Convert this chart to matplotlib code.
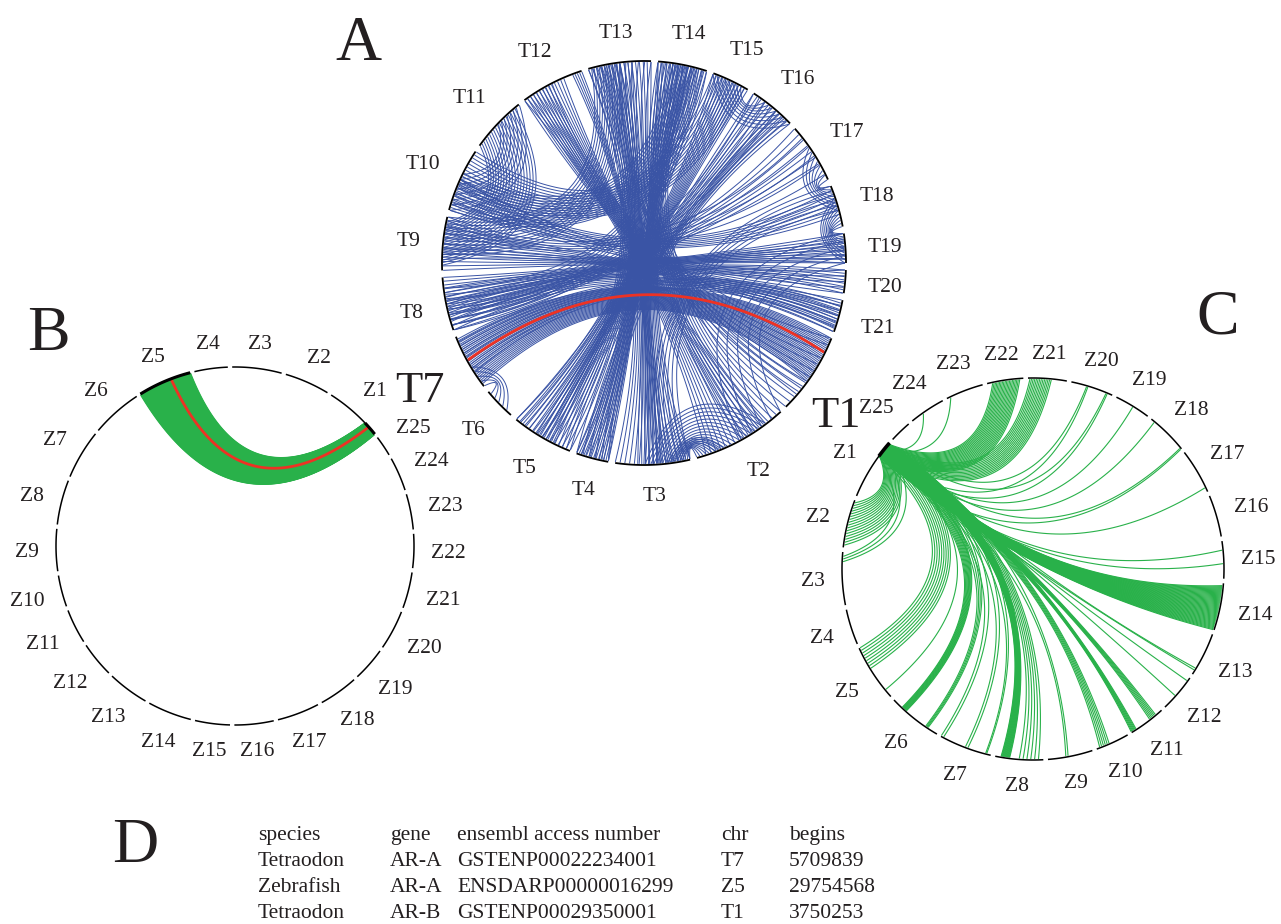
import numpy as np
import matplotlib
matplotlib.use("Agg")
import matplotlib.pyplot as plt
from matplotlib.collections import LineCollection

plt.rcParams["font.family"] = ["Liberation Serif", "DejaVu Serif"]

# %% data
tetra_names = [f"T{i}" for i in range(1, 22)]
tetra_len = [23.5, 27.4, 21.4, 9.3, 17.7, 9.2, 16.2, 15.3, 15.3, 18.3, 16.2,
             18.3, 18.0, 14.1, 10.8, 13.4, 17.3, 12.0, 8.4, 6.6, 9.3]
zebra_names = [f"Z{i}" for i in range(1, 26)]
zebra_len = [18.8, 14.6, 16.0, 10.8, 17.4, 16.5, 16.0, 14.5, 13.6, 10.2, 11.2,
             11.5, 13.4, 14.3, 11.3, 12.7, 13.7, 12.7, 11.0, 12.9, 11.7, 11.0,
             11.5, 11.0, 6.7]

# tetraodon self links: (chrA, fracA0, fracA1, chrB, fracB0, fracB1, count)
links_a = [
    ("T7", 0.05, 0.95, "T1", 0.0, 0.6, 28),
    ("T7", 0.3, 0.9, "T21", 0.1, 0.9, 9),
    ("T8", 0.0, 0.5, "T21", 0.2, 1.0, 7),
    ("T8", 0.2, 0.8, "T20", 0.0, 1.0, 8),
    ("T8", 0.5, 1.0, "T19", 0.0, 1.0, 8),
    ("T9", 0.0, 0.5, "T19", 0.2, 1.0, 7),
    ("T9", 0.3, 1.0, "T13", 0.05, 0.5, 12),
    ("T10", 0.0, 0.6, "T14", 0.3, 1.0, 14),
    ("T10", 0.4, 1.0, "T15", 0.0, 0.9, 12),
    ("T10", 0.1, 0.5, "T18", 0.1, 0.7, 7),
    ("T11", 0.0, 0.9, "T9", 0.1, 0.9, 18),
    ("T11", 0.5, 1.0, "T10", 0.0, 0.6, 8),
    ("T12", 0.0, 0.7, "T2", 0.2, 0.9, 14),
    ("T12", 0.85, 1.0, "T3", 0.4, 0.6, 5),
    ("T13", 0.2, 1.0, "T4", 0.0, 1.0, 14),
    ("T13", 0.0, 0.7, "T3", 0.3, 1.0, 12),
    ("T14", 0.0, 0.8, "T3", 0.0, 0.7, 14),
    ("T14", 0.5, 1.0, "T8", 0.1, 0.8, 7),
    ("T15", 0.0, 1.0, "T5", 0.3, 1.0, 12),
    ("T16", 0.0, 0.9, "T5", 0.0, 0.6, 10),
    ("T16", 0.3, 1.0, "T15", 0.0, 0.8, 8),
    ("T16", 0.6, 1.0, "T4", 0.0, 1.0, 6),
    ("T17", 0.0, 0.7, "T8", 0.0, 0.6, 7),
    ("T17", 0.4, 1.0, "T18", 0.0, 0.6, 8),
    ("T18", 0.3, 1.0, "T19", 0.0, 1.0, 10),
    ("T18", 0.0, 0.6, "T3", 0.0, 0.4, 6),
    ("T19", 0.0, 1.0, "T2", 0.0, 0.5, 5),
    ("T1", 0.0, 0.8, "T12", 0.0, 0.5, 10),
    ("T1", 0.6, 1.0, "T13", 0.5, 1.0, 6),
    ("T2", 0.0, 0.5, "T14", 0.0, 0.7, 10),
    ("T3", 0.1, 0.6, "T2", 0.2, 0.8, 14),
    ("T3", 0.0, 0.3, "T2", 0.7, 1.0, 10),
    ("T4", 0.0, 1.0, "T14", 0.0, 0.6, 8),
    ("T5", 0.0, 0.5, "T13", 0.0, 0.5, 8),
    ("T5", 0.5, 1.0, "T14", 0.3, 0.9, 7),
    ("T6", 0.2, 0.9, "T7", 0.0, 0.4, 5),
    ("T21", 0.0, 1.0, "T9", 0.2, 0.8, 7),
    ("T20", 0.0, 1.0, "T10", 0.0, 0.5, 5),
    ("T8", 0.0, 0.4, "T16", 0.0, 0.6, 5),
    ("T9", 0.7, 1.0, "T17", 0.2, 0.9, 5),
]
red_a = ("T7", 0.54, "T1", 0.19)

# panel B: T7 block (placed at start of Z1) -> Z5
src_b = ("Z1", 0.0, 0.25)
ribbon_b = ("Z5", 0.0, 1.0, 120)
red_b = ("Z5", 0.37, "Z1", 0.16)

# panel C: T1 block (placed at start of Z1) -> zebrafish chromosomes
src_c = ("Z1", 0.02, 0.27)
links_c = [
    ("Z2", 0.05, 0.95, 16), ("Z3", 0.08, 0.18, 3), ("Z5", 0.0, 0.4, 9),
    ("Z5", 0.85, 0.85, 1), ("Z6", 0.2, 0.3, 10), ("Z6", 0.75, 0.8, 4),
    ("Z7", 0.0, 0.05, 2), ("Z7", 0.5, 0.55, 2), ("Z7", 0.9, 0.92, 2),
    ("Z8", 0.12, 0.3, 16), ("Z8", 0.5, 0.9, 6), ("Z9", 0.4, 0.45, 2),
    ("Z10", 0.1, 0.4, 6), ("Z11", 0.0, 0.15, 7), ("Z11", 0.6, 0.8, 6),
    ("Z12", 0.4, 0.4, 1), ("Z12", 0.9, 0.9, 1), ("Z13", 0.1, 0.15, 2),
    ("Z14", 0.0, 0.95, 45), ("Z15", 0.4, 0.4, 1), ("Z15", 0.76, 0.76, 1),
    ("Z17", 0.1, 0.1, 1), ("Z18", 0.0, 0.03, 2), ("Z18", 0.9, 0.9, 1),
    ("Z19", 0.48, 0.48, 1), ("Z20", 0.12, 0.15, 2), ("Z20", 0.6, 0.63, 2),
    ("Z21", 0.4, 0.95, 14), ("Z22", 0.1, 0.85, 20), ("Z23", 0.9, 0.9, 1),
    ("Z24", 0.64, 0.64, 1),
]

table_header = ["species", "gene", "ensembl access number", "chr", "begins"]
table_rows = [
    ["Tetraodon", "AR-A", "GSTENP00022234001", "T7", "5709839"],
    ["Zebrafish", "AR-A", "ENSDARP00000016299", "Z5", "29754568"],
    ["Tetraodon", "AR-B", "GSTENP00029350001", "T1", "3750253"],
]

BLUE = "#3a54a5"
GREEN = "#29b14a"
RED = "#ed3224"
INK = "#231f20"


# %% helpers
def make_layout(names, lens, start, direction, gap):
    lens = np.asarray(lens, float)
    scale = (360 - gap * len(lens)) / lens.sum()
    lay, pos = {}, 0.0
    for n, l in zip(names, lens):
        lay[n] = (start + direction * pos, direction * l * scale)
        pos += l * scale + gap
    return lay


def ang(lay, chrom, frac):
    a0, span = lay[chrom]
    return np.deg2rad(a0 + span * frac)


def spread(f0, f1, n):
    return np.array([(f0 + f1) / 2]) if n == 1 else np.linspace(f0, f1, n)


def bezier(t1, t2, npts=80):
    p0 = np.array([np.cos(t1), np.sin(t1)])
    p2 = np.array([np.cos(t2), np.sin(t2)])
    s = p0 + p2
    ns = np.linalg.norm(s)
    u = s / ns if ns > 1e-6 else np.array([-p0[1], p0[0]])
    m = ns / 2
    c = 0.9 * m ** 8 - 0.6 * m * (1 - m)
    t = np.linspace(0, 1, npts)[:, None]
    return (1 - t) ** 2 * p0 + 2 * t * (1 - t) * (c * u) + t ** 2 * p2


def to_px(pts, cx, cy, r):
    return np.column_stack([cx + r * pts[:, 0], cy - r * pts[:, 1]])


def draw_links(ax, pairs, cx, cy, R, color, lw, z=2):
    segs = [to_px(bezier(t1, t2), cx, cy, R * 0.995) for t1, t2 in pairs]
    ax.add_collection(LineCollection(segs, colors=color, linewidths=lw, zorder=z))


def draw_ideogram(ax, lay, cx, cy, R, lw, thick=None):
    for name, (a0, span) in lay.items():
        th = np.deg2rad(np.linspace(a0, a0 + span, 60))
        ax.plot(cx + R * np.cos(th), cy - R * np.sin(th), color="black",
                lw=lw, solid_capstyle="butt", zorder=5)
    for chrom, f0, f1, w in (thick or []):
        th = np.linspace(ang(lay, chrom, f0), ang(lay, chrom, f1), 30)
        ax.plot(cx + R * np.cos(th), cy - R * np.sin(th), color="black",
                lw=w, solid_capstyle="butt", zorder=6)


def draw_labels(ax, lay, cx, cy, R, gap, size=15.5, big=None):
    # big: name -> (fontsize, x, y) for the enlarged highlight labels
    big = big or {}
    for name in lay:
        if name in big:
            fs, x, y = big[name]
            ax.text(x, y, name, fontsize=fs, ha="center", va="center",
                    color=INK, zorder=7)
            continue
        em = size * 100 / 72
        w = 0.611 * em + 0.5 * em * (len(name) - 1)
        h = 0.662 * em
        th = ang(lay, name, 0.5)
        c, s = np.cos(th), np.sin(th)
        r = R + gap + 0.5 * (abs(c) * w + abs(s) * h)
        ax.text(cx + r * c, cy - r * s + 0.08 * em, name, fontsize=size,
                ha="center", va="center", color=INK, zorder=7)


# %% figure
fig = plt.figure(figsize=(12.81, 9.24), dpi=100)
ax = fig.add_axes([0, 0, 1, 1])
ax.set_xlim(0, 1281)
ax.set_ylim(924, 0)
ax.axis("off")

# panel A
ax_c, ay_c, ar = 644, 263, 202
lay_a = make_layout(tetra_names, tetra_len, 338.1, -1, 2.0)
pairs = []
for ca, a0, a1, cb, b0, b1, n in links_a:
    for fa, fb in zip(spread(a0, a1, n), spread(b0, b1, n)[::-1]):
        pairs.append((ang(lay_a, ca, fa), ang(lay_a, cb, fb)))
draw_links(ax, pairs, ax_c, ay_c, ar, BLUE, 0.7)
draw_links(ax, [(ang(lay_a, red_a[0], red_a[1]), ang(lay_a, red_a[2], red_a[3]))],
           ax_c, ay_c, ar, RED, 2.0, z=3)
draw_ideogram(ax, lay_a, ax_c, ay_c, ar, 1.3)
draw_labels(ax, lay_a, ax_c, ay_c, ar, 22,
            big={"T7": (32, 420, 391), "T1": (32, 836, 416)})

# panel B
bx, by, br = 235, 546, 179
lay_b = make_layout(zebra_names, zebra_len, 38.7, 1, 1.4)
chrom, f0, f1, n = ribbon_b
pairs = [(ang(lay_b, chrom, fz), ang(lay_b, src_b[0], fs))
         for fz, fs in zip(spread(f0, f1, n), spread(src_b[1], src_b[2], n)[::-1])]
draw_links(ax, pairs, bx, by, br, GREEN, 1.3)
draw_links(ax, [(ang(lay_b, red_b[0], red_b[1]), ang(lay_b, red_b[2], red_b[3]))],
           bx, by, br, RED, 2.0, z=3)
draw_ideogram(ax, lay_b, bx, by, br, 1.1,
              thick=[("Z5", 0.0, 1.0, 2.2), (src_b[0], src_b[1], src_b[2], 2.2)])
draw_labels(ax, lay_b, bx, by, br, 17)

# panel C
cx, cy, cr = 1033, 569, 191
lay_c = make_layout(zebra_names, zebra_len, 138.7, 1, 1.4)
pairs = []
for chrom, f0, f1, n in links_c:
    for fz, fs in zip(spread(f0, f1, n), spread(src_c[1], src_c[2], n)[::-1]):
        pairs.append((ang(lay_c, src_c[0], fs), ang(lay_c, chrom, fz)))
draw_links(ax, pairs, cx, cy, cr, GREEN, 0.8)
draw_ideogram(ax, lay_c, cx, cy, cr, 1.1,
              thick=[(src_c[0], 0.0, src_c[2], 2.6)])
draw_labels(ax, lay_c, cx, cy, cr, 17)

# panel letters
for letter, x, y in [("A", 335, 60), ("B", 27, 350), ("C", 1196, 333), ("D", 112, 862)]:
    ax.text(x, y, letter, fontsize=46, ha="left", va="baseline", color=INK)

# panel D table
col_x = [258, 390, 457, 721, 789]
row_y = [840, 866, 892, 918]
for y, row in zip(row_y, [table_header] + table_rows):
    for x, cell in zip(col_x, row):
        ax.text(x, y, cell, fontsize=15.5, ha="left", va="baseline", color=INK)

fig.savefig("out.png", dpi=100)
